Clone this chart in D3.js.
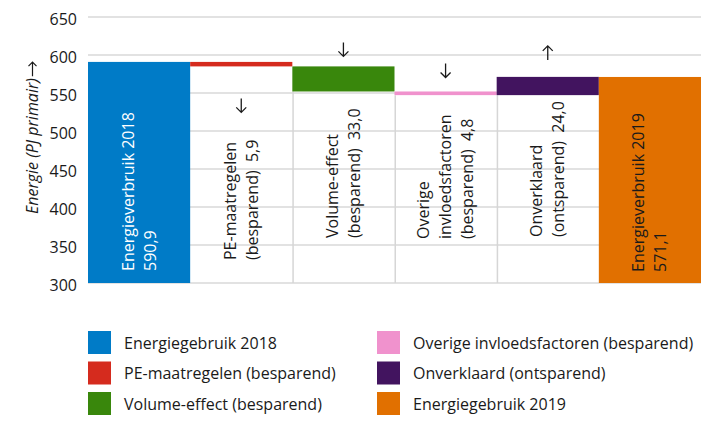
<!DOCTYPE html>
<html lang="nl">
<head>
  <meta charset="UTF-8" />
  <title>Energieverbruik 2018-2019 waterval</title>
  <script src="https://d3js.org/d3.v7.min.js"></script>
  <style>
    body {
      margin: 0;
      background: #fff;
      font-family: "Open Sans", sans-serif;
    }
    svg {
      display: block;
    }
    .tick-label {
      font-size: 16px;
      fill: #1a1a1a;
    }
    .bar-label {
      font-size: 16px;
      white-space: pre;
    }
    .legend-label {
      font-size: 16px;
      fill: #1a1a1a;
    }
    .axis-title {
      font-family: "Open Sans", sans-serif;
      font-size: 16px;
      font-style: italic;
      fill: #1a1a1a;
    }
  </style>
</head>
<body>
  <svg></svg>

  <script>
    // data
    const categories = ["e2018", "pe", "volume", "overig", "onverklaard", "e2019"];
    const kinds = ["total", "delta", "delta", "delta", "delta", "total"];
    const values = [590.9, -5.9, -33.0, -4.8, 24.0, 571.1];
    const barLabels = [
      ["Energieverbruik 2018"],
      ["PE-maatregelen", "(besparend)"],
      ["Volume-effect", "(besparend)"],
      ["Overige", "invloedsfactoren", "(besparend)"],
      ["Onverklaard", "(ontsparend)"],
      ["Energieverbruik 2019"]
    ];
    const legendLabels = [
      "Energiegebruik 2018",
      "PE-maatregelen (besparend)",
      "Volume-effect (besparend)",
      "Overige invloedsfactoren (besparend)",
      "Onverklaard (ontsparend)",
      "Energiegebruik 2019"
    ];
    const yTicks = [300, 350, 400, 450, 500, 550, 600, 650];

    const colors = ["#007bc7", "#d52b1e", "#39870c", "#f092cd", "#42145f", "#e17000"];
    const labelColors = ["#ffffff", "#1a1a1a", "#1a1a1a", "#1a1a1a", "#1a1a1a", "#1a1a1a"];
    // where each rotated label starts (px from top) and where the arrow sits
    const labelBottom = [271, 260, 238, 239, 237, 272];
    const arrowGap = [0, 32, -10, -14, -17, 0];

    const width = 707;
    const height = 421;
    const margin = { top: 17, right: 6, bottom: 138, left: 88 };

    const fmt = v => d3.format(".1f")(Math.abs(v)).replace(".", ",");

    // running totals for the waterfall
    let run = 0;
    const rows = categories.map((c, i) => {
      let start, end;
      if (kinds[i] === "total") {
        start = 300; end = values[i]; run = values[i];
      } else {
        start = run; end = run + values[i]; run = end;
      }
      return { key: c, i, kind: kinds[i], value: values[i], start, end };
    });

    const svg = d3.select("svg")
      .attr("width", width)
      .attr("height", height);

    const x = d3.scaleBand()
      .domain(categories)
      .range([margin.left, width - margin.right])
      .padding(0);

    const y = d3.scaleLinear()
      .domain([300, 650])
      .range([height - margin.bottom, margin.top]);

    // horizontal grid
    svg.append("g")
      .selectAll("line")
      .data(yTicks)
      .join("line")
      .attr("x1", margin.left)
      .attr("x2", width - margin.right)
      .attr("y1", d => y(d))
      .attr("y2", d => y(d))
      .attr("stroke", "#d9d9d9")
      .attr("stroke-width", 1.5);

    svg.append("g")
      .selectAll("text")
      .data(yTicks)
      .join("text")
      .attr("class", "tick-label")
      .attr("x", 77)
      .attr("y", d => y(d) + 7.5)
      .attr("text-anchor", "end")
      .text(d => d);

    // left edges of the invisible base bars
    svg.append("g")
      .selectAll("line")
      .data(rows.filter(d => d.kind === "delta" && rows[d.i - 1].kind === "delta"))
      .join("line")
      .attr("x1", d => x(d.key) + 0.75)
      .attr("x2", d => x(d.key) + 0.75)
      .attr("y1", d => y(Math.min(d.start, d.end)))
      .attr("y2", y(300))
      .attr("stroke", "#d6d6d6")
      .attr("stroke-width", 1.5);

    // bars
    svg.append("g")
      .selectAll("rect")
      .data(rows)
      .join("rect")
      .attr("x", d => x(d.key))
      .attr("width", x.bandwidth())
      .attr("y", d => y(Math.max(d.start, d.end)))
      .attr("height", d => Math.abs(y(d.start) - y(d.end)))
      .attr("fill", d => colors[d.i]);

    // rotated labels
    const lineGap = 22;
    svg.append("g")
      .selectAll("text")
      .data(rows)
      .join("text")
      .attr("class", "bar-label")
      .attr("fill", d => labelColors[d.i])
      .attr("transform", d => `translate(${x(d.key) + x.bandwidth() / 2},${labelBottom[d.i]}) rotate(-90)`)
      .each(function (d) {
        const lines = barLabels[d.i].slice();
        if (d.kind === "total") lines.push(fmt(d.value));
        else lines[lines.length - 1] += "  " + fmt(d.value);
        const n = lines.length;
        d3.select(this).selectAll("tspan")
          .data(lines)
          .join("tspan")
          .attr("x", 0)
          .attr("y", (l, j) => (j - (n - 1) / 2) * lineGap + 5.5)
          .text(l => l);
      });

    // direction arrows
    svg.append("g")
      .selectAll("path")
      .data(rows.filter(d => d.kind === "delta"))
      .join("path")
      .attr("fill", "none")
      .attr("stroke", "#1a1a1a")
      .attr("stroke-width", 1.3)
      .attr("d", d => {
        const cx = x(d.key) + x.bandwidth() / 2;
        const up = d.value > 0;
        const gap = arrowGap[d.i];
        const ref = gap > 0 ? y(Math.min(d.start, d.end)) : y(Math.max(d.start, d.end));
        const y0 = gap > 0 ? ref + gap : ref + gap - 14;
        const y1 = y0 + 14;
        if (up) return `M${cx},${y1}V${y0}M${cx - 5},${y0 + 5}L${cx},${y0}L${cx + 5},${y0 + 5}`;
        return `M${cx},${y0}V${y1}M${cx - 5},${y1 - 5}L${cx},${y1}L${cx + 5},${y1 - 5}`;
      });

    // y axis title, text plus a drawn long arrow
    const title = svg.append("g")
      .attr("transform", `translate(38,214) rotate(-90)`);
    const titleText = title.append("text")
      .attr("class", "axis-title")
      .attr("x", 0)
      .attr("y", 0)
      .text("Energie (PJ primair)");
    const tw = titleText.node().getComputedTextLength();
    title.append("path")
      .attr("fill", "none")
      .attr("stroke", "#1a1a1a")
      .attr("stroke-width", 1.2)
      .attr("d", `M${tw + 2},-5.5H${tw + 16}M${tw + 12},-9.5L${tw + 16},-5.5L${tw + 12},-1.5`);

    // legend
    const legend = svg.append("g")
      .selectAll("g")
      .data(legendLabels)
      .join("g")
      .attr("transform", (d, i) => `translate(${i < 3 ? 88 : 377},${331 + (i % 3) * 30.5})`);

    legend.append("rect")
      .attr("width", 23)
      .attr("height", 23)
      .attr("fill", (d, i) => colors[i]);

    legend.append("text")
      .attr("class", "legend-label")
      .attr("x", 36)
      .attr("y", 17.5)
      .text(d => d);
  </script>
</body>
</html>
